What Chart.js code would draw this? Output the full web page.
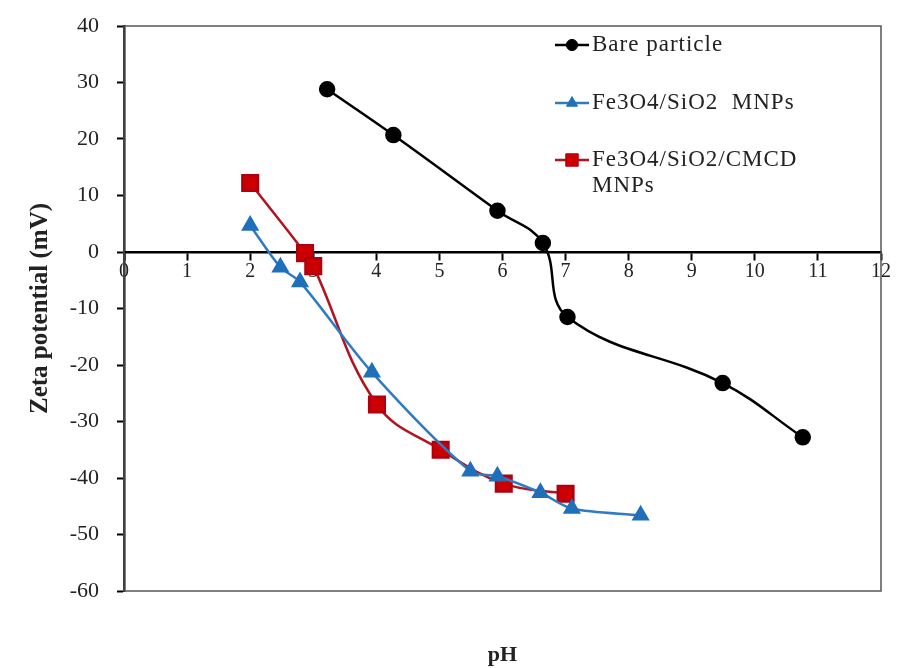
<!DOCTYPE html>
<html>
<head>
<meta charset="utf-8">
<script src="https://cdn.jsdelivr.net/npm/chart.js@4"></script>
<style>
  html, body { margin: 0; padding: 0; background: #fff; }
  #wrap { width: 897px; height: 668px; }
</style>
</head>
<body>
<div id="wrap"><canvas id="zetaChart" width="897" height="668"></canvas></div>
<script>
// values
const seriesNames = ["Bare particle", "Fe3O4/SiO2  MNPs", "Fe3O4/SiO2/CMCD MNPs"];

const barePH = [3.22, 4.27, 5.92, 6.64, 7.03, 9.49, 10.76];
const bareZeta = [28.8, 20.7, 7.3, 1.6, -11.5, -23.2, -32.8];

const silicaPH = [2.0, 2.48, 2.79, 3.93, 5.49, 5.92, 6.6, 7.1, 8.19];
const silicaZeta = [4.7, -2.7, -5.3, -21.3, -38.8, -39.7, -42.6, -45.4, -46.6];

const cmcdPH = [2.0, 2.87, 3.0, 4.01, 5.02, 6.02, 7.0];
const cmcdZeta = [12.2, -0.2, -2.5, -27.0, -35.0, -41.0, -42.8];

const xTicks = [0, 1, 2, 3, 4, 5, 6, 7, 8, 9, 10, 11, 12];
const yTicks = [40, 30, 20, 10, 0, -10, -20, -30, -40, -50, -60];

function toPoints(xs, ys) {
  return xs.map((x, i) => ({ x: x, y: ys[i] }));
}

const serif = "'Liberation Serif', 'DejaVu Serif', serif";

// plot frame + "pH" title + legend drawn inside the plot area
const extras = {
  id: "extras",
  beforeDatasetsDraw(chart) {
    const { ctx, chartArea: a } = chart;
    ctx.save();
    ctx.strokeStyle = "#555";
    ctx.lineWidth = 1.5;
    ctx.strokeRect(a.left, a.top, a.right - a.left, a.bottom - a.top);
    ctx.restore();
  },
  afterDraw(chart) {
    const { ctx, chartArea: a } = chart;
    ctx.save();
    ctx.fillStyle = "#222";
    ctx.font = "bold 22px " + serif;
    ctx.textAlign = "center";
    ctx.textBaseline = "middle";
    ctx.fillText("pH", (a.left + a.right) / 2, 655);

    // legend
    const rows = [
      { ds: 0, y: 45, lines: ["Bare particle"] },
      { ds: 1, y: 103, lines: ["Fe3O4/SiO2  MNPs"] },
      { ds: 2, y: 160, lines: ["Fe3O4/SiO2/CMCD", "MNPs"] }
    ];
    ctx.font = "23px " + serif;
    ctx.letterSpacing = "1px";
    ctx.textAlign = "left";
    rows.forEach(r => {
      const ds = chart.data.datasets[r.ds];
      ctx.strokeStyle = ds.borderColor;
      ctx.lineWidth = 2.5;
      ctx.beginPath();
      ctx.moveTo(555, r.y);
      ctx.lineTo(589, r.y);
      ctx.stroke();
      ctx.fillStyle = ds.pointBackgroundColor;
      ctx.strokeStyle = ds.pointBorderColor;
      ctx.lineWidth = 1;
      Chart.helpers.drawPoint(ctx, {
        pointStyle: ds.pointStyle,
        radius: ds.pointRadius * 0.8,
        borderWidth: 1,
        rotation: 0
      }, 572, r.y);
      ctx.fillStyle = "#222";
      r.lines.forEach((t, i) => ctx.fillText(t, 592, r.y + i * 26));
    });
    ctx.restore();
  }
};

new Chart(document.getElementById("zetaChart").getContext("2d"), {
  type: "line",
  data: {
    datasets: [
      {
        label: seriesNames[0],
        data: toPoints(barePH, bareZeta),
        borderColor: "#000",
        borderWidth: 2.5,
        pointStyle: "circle",
        pointRadius: 7,
        pointBackgroundColor: "#000",
        pointBorderColor: "#000",
        tension: 0.4
      },
      {
        label: seriesNames[1],
        data: toPoints(silicaPH, silicaZeta),
        borderColor: "#2E7BC4",
        borderWidth: 2.5,
        pointStyle: "triangle",
        pointRadius: 8,
        pointBackgroundColor: "#1F6FBA",
        pointBorderColor: "#1F6FBA",
        tension: 0.3
      },
      {
        label: seriesNames[2],
        data: toPoints(cmcdPH, cmcdZeta),
        borderColor: "#B01420",
        borderWidth: 2.5,
        pointStyle: "rect",
        pointRadius: 11,
        pointBackgroundColor: "#CC0000",
        pointBorderColor: "#B00010",
        tension: 0.4
      }
    ]
  },
  options: {
    responsive: false,
    animation: false,
    layout: { padding: { left: 26, top: 26, right: 16, bottom: 77 } },
    plugins: {
      legend: { display: false },
      tooltip: { enabled: false }
    },
    scales: {
      x: {
        type: "linear",
        position: { y: 0 },
        min: 0,
        max: 12,
        afterBuildTicks: s => { s.ticks = xTicks.map(v => ({ value: v })); },
        ticks: {
          color: "#222",
          font: { family: serif, size: 20 },
          padding: 1,
          maxRotation: 0
        },
        grid: {
          drawOnChartArea: false,
          drawTicks: true,
          tickLength: 7,
          tickWidth: 2,
          tickColor: "#000"
        },
        border: { color: "#000", width: 2.5 }
      },
      y: {
        min: -60,
        max: 40,
        afterBuildTicks: s => { s.ticks = yTicks.map(v => ({ value: v })); },
        afterFit: s => {
          s.width = 98;
          s.paddingTop = 0;
          s.paddingBottom = 0;
        },
        title: {
          display: true,
          text: "Zeta potential (mV)",
          color: "#222",
          font: { family: serif, size: 25, weight: "bold" },
          padding: { top: 0, bottom: 0 }
        },
        ticks: {
          color: "#222",
          font: { family: serif, size: 22 },
          padding: 18
        },
        grid: {
          drawOnChartArea: false,
          drawTicks: true,
          tickLength: 7,
          tickWidth: 2,
          tickColor: "#000"
        },
        border: { color: "#000", width: 2.5 }
      }
    }
  },
  plugins: [extras]
});
</script>
</body>
</html>
